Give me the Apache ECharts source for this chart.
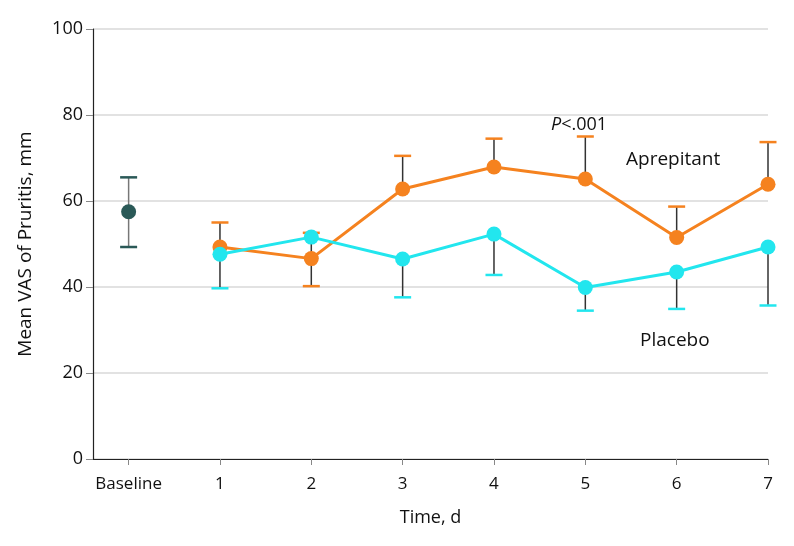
<!DOCTYPE html>
<html>
<head>
<meta charset="utf-8">
<script src="https://cdn.jsdelivr.net/npm/echarts@6/dist/echarts.min.js"></script>
<style>html,body{margin:0;padding:0;background:#fff}#c{width:794px;height:546px}</style>
</head>
<body>
<div id="c"></div>
<script>
// ---- data ----
const xLabels = ['Baseline', '1', '2', '3', '4', '5', '6', '7'];
const days = [1, 2, 3, 4, 5, 6, 7];
const yTicks = [0, 20, 40, 60, 80, 100];

const baselineMean = 57.5;
const baselineLow = 49.3;
const baselineHigh = 65.5;

const aprepitantMean = [49.3, 46.6, 62.8, 67.9, 65.1, 51.5, 63.9];
const aprepitantLow  = [49.3, 40.2, 62.8, 67.9, 65.1, 51.5, 63.9];
const aprepitantHigh = [55.0, 52.6, 70.5, 74.5, 75.0, 58.7, 73.7];

const placeboMean = [47.6, 51.6, 46.5, 52.3, 39.9, 43.5, 49.3];
const placeboLow  = [39.7, null, 37.6, 42.8, 34.5, 34.9, 35.7];
const placeboHigh = [47.6, null, 46.5, 52.3, 39.9, 43.5, 49.3];

// ---- styling ----
const ORANGE = '#F5821F';
const CYAN = '#22E6EE';
const TEAL = '#2A5957';
const FONT = '"Open Sans", "Noto Sans", sans-serif';

function errData(xs, mean, lo, hi) {
  const out = [];
  for (let i = 0; i < xs.length; i++) {
    if (lo[i] == null || hi[i] == null) continue;
    out.push([xs[i], mean[i], lo[i], hi[i]]);
  }
  return out;
}

function errSeries(data, capColor, stemColor, z) {
  return {
    type: 'custom',
    z: z,
    silent: true,
    data: data,
    encode: { x: 0, y: 1 },
    renderItem: function (params, api) {
      const x = api.value(0), m = api.value(1), lo = api.value(2), hi = api.value(3);
      const pLo = api.coord([x, lo]);
      const pHi = api.coord([x, hi]);
      const half = 8.5;
      const children = [{
        type: 'line',
        shape: { x1: pLo[0], y1: pLo[1], x2: pHi[0], y2: pHi[1] },
        style: { stroke: stemColor, lineWidth: 1.5 }
      }];
      if (hi > m) children.push({
        type: 'line',
        shape: { x1: pHi[0] - half, y1: pHi[1], x2: pHi[0] + half, y2: pHi[1] },
        style: { stroke: capColor, lineWidth: 2.5 }
      });
      if (lo < m) children.push({
        type: 'line',
        shape: { x1: pLo[0] - half, y1: pLo[1], x2: pLo[0] + half, y2: pLo[1] },
        style: { stroke: capColor, lineWidth: 2.5 }
      });
      return { type: 'group', children: children };
    }
  };
}

const chart = echarts.init(document.getElementById('c'), null, { renderer: 'canvas' });
chart.setOption({
  animation: false,
  backgroundColor: '#fff',
  grid: { left: 93, right: 26, top: 29, bottom: 87, containLabel: false },
  xAxis: {
    type: 'value',
    min: -0.39,
    max: 7,
    name: 'Time, d',
    nameLocation: 'middle',
    nameGap: 50,
    nameTextStyle: { fontFamily: FONT, fontSize: 18, color: '#111' },
    axisLine: { show: true, onZero: false, lineStyle: { color: '#222', width: 1.2 } },
    axisTick: { show: true, customValues: xLabels.map((_, i) => i), length: 6, lineStyle: { color: '#888' } },
    axisLabel: {
      customValues: xLabels.map((_, i) => i),
      formatter: v => xLabels[Math.round(v)],
      fontFamily: FONT, fontSize: 17, color: '#111', margin: 17
    },
    splitLine: { show: false }
  },
  yAxis: {
    type: 'value',
    min: 0,
    max: 100,
    interval: 20,
    name: 'Mean VAS of Pruritis, mm',
    nameLocation: 'middle',
    nameGap: 58,
    nameTextStyle: { fontFamily: FONT, fontSize: 19, color: '#111' },
    axisLine: { show: true, onZero: false, lineStyle: { color: '#222', width: 1.2 } },
    axisTick: { show: true, length: 7, lineStyle: { color: '#888' } },
    axisLabel: {
      customValues: yTicks,
      fontFamily: FONT, fontSize: 18, color: '#111', margin: 10
    },
    splitLine: { show: true, lineStyle: { color: '#d8d8d8', width: 1.5 } }
  },
  series: [
    errSeries([[0, baselineMean, baselineLow, baselineHigh]], TEAL, '#777', 1),
    errSeries(errData(days, aprepitantMean, aprepitantLow, aprepitantHigh), ORANGE, '#333', 1),
    errSeries(errData(days, placeboMean, placeboLow, placeboHigh), CYAN, '#333', 1),
    {
      type: 'scatter', z: 3,
      data: [[0, baselineMean]],
      symbol: 'circle', symbolSize: 15,
      itemStyle: { color: TEAL, opacity: 1 }
    },
    {
      type: 'line', z: 3,
      data: days.map((d, i) => [d, aprepitantMean[i]]),
      symbol: 'circle', symbolSize: 15, showSymbol: true,
      lineStyle: { color: ORANGE, width: 3 },
      itemStyle: { color: ORANGE, borderWidth: 0, opacity: 1 }
    },
    {
      type: 'line', z: 4,
      data: days.map((d, i) => [d, placeboMean[i]]),
      symbol: 'circle', symbolSize: 15, showSymbol: true,
      lineStyle: { color: CYAN, width: 3 },
      itemStyle: { color: CYAN, borderWidth: 0, opacity: 1 }
    }
  ],
  graphic: [
    {
      type: 'text', left: 551, top: 116,
      style: {
        text: '{i|P}<.001',
        fontFamily: FONT, fontSize: 18, fill: '#111',
        rich: { i: { fontStyle: 'italic', fontFamily: FONT, fontSize: 18, fill: '#111' } }
      }
    },
    {
      type: 'text', left: 626, top: 150,
      style: { text: 'Aprepitant', fontFamily: FONT, fontSize: 19, fill: '#111' }
    },
    {
      type: 'text', left: 640, top: 331,
      style: { text: 'Placebo', fontFamily: FONT, fontSize: 19, fill: '#111' }
    }
  ]
});
</script>
</body>
</html>
